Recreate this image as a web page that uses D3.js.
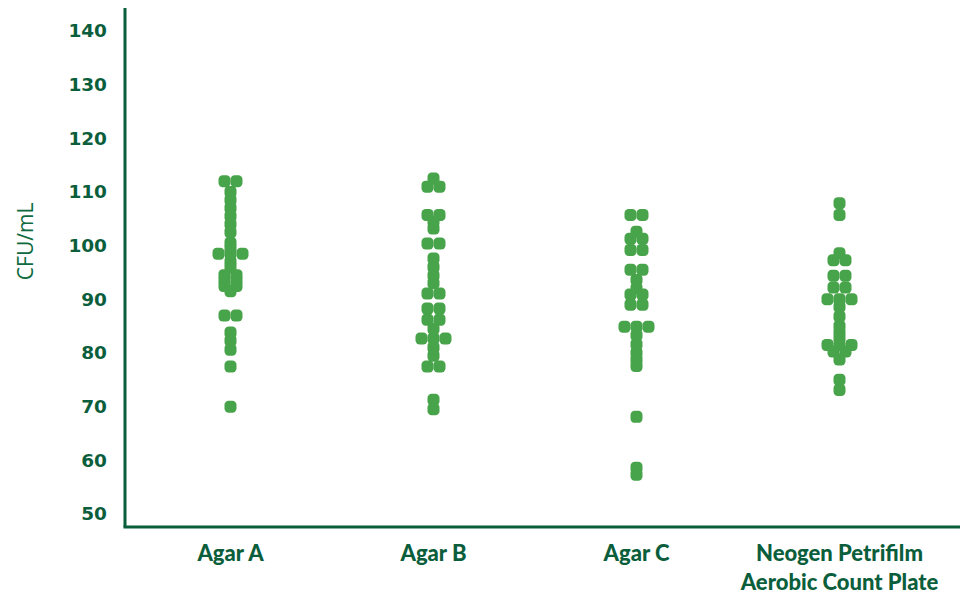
<!DOCTYPE html>
<html>
<head>
<meta charset="utf-8">
<script src="https://cdn.jsdelivr.net/npm/d3@7"></script>
<style>
  body { margin: 0; background: #fff; }
  svg { display: block; }
</style>
</head>
<body>
<div id="chart"></div>
<script>
const categories = ["Agar A", "Agar B", "Agar C", "Neogen Petrifilm|Aerobic Count Plate"];

// readings per medium; repeated values sit side by side
const agarA = [112, 112, 110, 108.5, 107, 105.5, 104, 102.5, 100.5, 99.5, 98.5, 98.5, 98.5, 97, 96,
  94.5, 94.5, 93.5, 93.5, 92.5, 92.5, 91.5, 87, 87, 83.8, 82.3, 80.6, 77.5, 70];
const agarB = [112.5, 111, 111, 105.7, 105.7, 104.5, 103.2, 100.4, 100.4, 97.6, 96, 94.4, 93, 91.1, 91.1,
  88.3, 88.3, 86.2, 86.2, 84.5, 82.7, 82.7, 82.7, 81, 79.5, 77.5, 77.5, 71.3, 69.5];
const agarC = [105.7, 105.7, 102.6, 101.3, 101.3, 99.2, 99.2, 95.5, 95.5, 93.6, 92, 90.9, 90.9, 89, 89,
  84.9, 84.9, 84.9, 83.3, 81.6, 80, 78.8, 77.6, 68.1, 58.6, 57.3];
const petrifilm = [107.9, 105.7, 98.6, 97.3, 97.3, 94.4, 94.4, 92.2, 92.2, 90, 90, 90, 88.6, 86.8, 85,
  83.8, 82.7, 81.5, 81.5, 81.5, 80.3, 80.3, 78.8, 75, 73.1];
const series = [agarA, agarB, agarC, petrifilm];

const yTicks = [50, 60, 70, 80, 90, 100, 110, 120, 130, 140];
const yTitle = "CFU/mL";

const width = 969, height = 597;
const green = "#0b5e3b", dotColor = "#48a44a";
const dot = 12;

const svg = d3.select("#chart").append("svg")
    .attr("width", width)
    .attr("height", height);

const x = d3.scaleBand()
    .domain(categories)
    .range([129, 941]);

const y = d3.scaleLinear()
    .domain([50, 140])
    .range([514, 31]);

const axisX0 = 125, axisX1 = 960;
const axisYBottom = y(47.6), axisYTop = y(144.3);

// points, spreading equal values horizontally
const points = [];
series.forEach((vals, ci) => {
    const groups = d3.group(vals, v => v);
    groups.forEach((arr, v) => {
        arr.forEach((_, i) => {
            points.push({ cat: categories[ci], value: v, off: (i - (arr.length - 1) / 2) * 12 });
        });
    });
});

svg.append("g")
    .selectAll("rect")
    .data(points)
    .join("rect")
    .attr("x", d => x(d.cat) + x.bandwidth() / 2 + d.off - dot / 2)
    .attr("y", d => y(d.value) - dot / 2)
    .attr("width", dot)
    .attr("height", dot)
    .attr("rx", 4.2)
    .attr("fill", dotColor);

// y axis
const yAxis = svg.append("g")
    .attr("transform", `translate(${axisX0},0)`)
    .call(d3.axisLeft(y).tickValues(yTicks).tickSize(0).tickPadding(18));
yAxis.select(".domain").remove();
yAxis.selectAll("text")
    .attr("fill", green)
    .style("font-family", "DejaVu Sans")
    .style("font-weight", "bold")
    .style("font-size", "18.5px");

svg.append("line")
    .attr("x1", axisX0).attr("x2", axisX0)
    .attr("y1", axisYTop).attr("y2", axisYBottom)
    .attr("stroke", green).attr("stroke-width", 3);

// x axis
const xAxis = svg.append("g")
    .attr("transform", `translate(0,${axisYBottom})`)
    .call(d3.axisBottom(x).tickSize(0).tickPadding(16).tickFormat(""));
xAxis.select(".domain").remove();
xAxis.selectAll(".tick").each(function (d) {
    const t = d3.select(this).append("text")
        .attr("fill", green)
        .attr("text-anchor", "middle")
        .style("font-family", "Lato")
        .style("font-weight", "900")
        .style("font-size", "22px");
    d.split("|").forEach((line, i) => {
        t.append("tspan").attr("x", 0).attr("y", 34 + i * 29).text(line);
    });
});

svg.append("line")
    .attr("x1", axisX0 - 1.5).attr("x2", axisX1)
    .attr("y1", axisYBottom).attr("y2", axisYBottom)
    .attr("stroke", green).attr("stroke-width", 3);

svg.append("text")
    .attr("transform", `translate(33,${(axisYTop + axisYBottom) / 2 - 26}) rotate(-90)`)
    .attr("text-anchor", "middle")
    .attr("fill", "#0f6a40")
    .style("font-family", "Open Sans")
    .style("font-size", "21px")
    .text(yTitle);
</script>
</body>
</html>
